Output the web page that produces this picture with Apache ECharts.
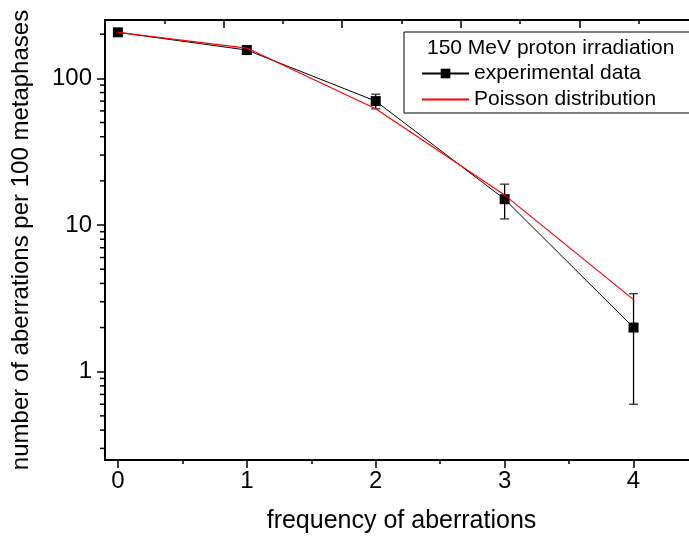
<!DOCTYPE html>
<html><head><meta charset="utf-8">
<script src="https://cdn.jsdelivr.net/npm/echarts@6/dist/echarts.min.js"></script>
<style>html,body{margin:0;padding:0;background:#fff}#c{width:689px;height:539px}</style>
</head><body><div id="c"></div>
<script>
// ---- data ----
const categories = [0, 1, 2, 3, 4];
const experimental = [206, 156, 70, 15, 2];
const experimentalErr = [null, null, 8, 4, 1.4];
const poisson = [206, 161, 62, 16, 3.1];
const xTicks = [0, 1, 2, 3, 4];
const xMinorTicks = [0.5, 1.5, 2.5, 3.5];
const yTicks = [1, 10, 100];
const yMinorTicks = [0.3, 0.4, 0.5, 0.6, 0.7, 0.8, 0.9,
  2, 3, 4, 5, 6, 7, 8, 9,
  20, 30, 40, 50, 60, 70, 80, 90, 200];
const legendTitle = '150 MeV proton irradiation';
const xTitle = 'frequency of aberrations';
const yTitle = 'number of aberrations per 100 metaphases';

const FONT = '"Liberation Sans", Arial, sans-serif';
const X_MIN = -0.1, X_MAX = 4.5;

const chart = echarts.init(document.getElementById('c'), null, {renderer: 'canvas'});

const expData = categories.map((x, i) => [x, experimental[i]]);
const poiData = categories.map((x, i) => [x, poisson[i]]);
const errData = categories
  .map((x, i) => experimentalErr[i] == null ? null : [x, experimental[i] - experimentalErr[i], experimental[i] + experimentalErr[i]])
  .filter(d => d);
const minorData = yMinorTicks.map(v => [X_MIN, v]);

const option = {
  animation: false,
  backgroundColor: '#fff',
  textStyle: {fontFamily: FONT},
  title: {
    text: legendTitle,
    left: 427, top: 38, padding: 0,
    textStyle: {fontFamily: FONT, fontSize: 21, fontWeight: 'normal', color: '#000'}
  },
  legend: {
    data: [
      {name: 'experimental data'},
      {name: 'Poisson distribution', itemStyle: {opacity: 0}}
    ],
    orient: 'vertical',
    left: 421, top: 63, padding: 0,
    itemWidth: 47, itemHeight: 12, itemGap: 5,
    textStyle: {fontFamily: FONT, fontSize: 21, color: '#000'},
    selectedMode: false
  },
  graphic: [{
    type: 'rect', z: 100,
    shape: {x: 404, y: 32, width: 300, height: 81},
    style: {fill: null, stroke: '#000', lineWidth: 1}
  }],
  grid: {left: 105, top: 20, width: 593, height: 440, outerBoundsMode: 'none', containLabel: false},
  xAxis: [{
    type: 'value', min: X_MIN, max: X_MAX, position: 'bottom',
    axisLine: {show: true, onZero: false, lineStyle: {color: '#000', width: 2}},
    axisTick: {show: true, inside: false, length: 8, customValues: xTicks, lineStyle: {color: '#000', width: 1.5}},
    axisLabel: {show: true, customValues: xTicks, fontSize: 24, color: '#000', margin: 9, fontFamily: FONT},
    splitLine: {show: false},
    name: xTitle, nameLocation: 'middle', nameGap: 49,
    nameTextStyle: {fontSize: 25, color: '#000', fontFamily: FONT}
  }, {
    type: 'value', min: X_MIN, max: X_MAX, position: 'bottom',
    axisLine: {show: false, onZero: false},
    axisTick: {show: true, inside: false, length: 4, customValues: xMinorTicks, lineStyle: {color: '#000', width: 1.5}},
    axisLabel: {show: false},
    splitLine: {show: false}
  }, {
    type: 'value', min: 0, max: 5, interval: 1, position: 'top',
    axisLine: {show: true, onZero: false, lineStyle: {color: '#000', width: 2}},
    axisTick: {show: true, inside: true, length: 8, lineStyle: {color: '#000', width: 1.5}},
    minorTick: {show: true, splitNumber: 2, length: 4, lineStyle: {color: '#000', width: 1.5}},
    axisLabel: {show: false},
    splitLine: {show: false}
  }],
  yAxis: [{
    type: 'log', logBase: 10, min: 0.25, max: 250, position: 'left',
    axisLine: {show: true, onZero: false, lineStyle: {color: '#000', width: 2}},
    axisTick: {show: true, inside: false, length: 8, customValues: yTicks, lineStyle: {color: '#000', width: 1.5}},
    axisLabel: {show: true, customValues: yTicks, fontSize: 24, color: '#000', margin: 13, fontFamily: FONT},
    splitLine: {show: false},
    name: yTitle, nameLocation: 'middle', nameGap: 72,
    nameTextStyle: {fontSize: 24, color: '#000', fontFamily: FONT}
  }],
  series: [{
    name: 'yMinorTicks', type: 'custom', silent: true, clip: false,
    xAxisIndex: 0, yAxisIndex: 0, data: minorData, z: 1,
    renderItem: function (params, api) {
      const p = api.coord([api.value(0), api.value(1)]);
      return {type: 'line', shape: {x1: p[0] - 5, y1: p[1], x2: p[0] - 1, y2: p[1]},
        style: {stroke: '#000', lineWidth: 1.5}};
    }
  }, {
    name: 'errors', type: 'custom', silent: true, clip: false,
    xAxisIndex: 0, yAxisIndex: 0, data: errData, z: 2,
    renderItem: function (params, api) {
      const lo = api.coord([api.value(0), api.value(1)]);
      const hi = api.coord([api.value(0), api.value(2)]);
      const hw = 4.5;
      return {type: 'group', children: [
        {type: 'line', shape: {x1: lo[0], y1: lo[1], x2: hi[0], y2: hi[1]}, style: {stroke: '#000', lineWidth: 1.3}},
        {type: 'line', shape: {x1: lo[0] - hw, y1: lo[1], x2: lo[0] + hw, y2: lo[1]}, style: {stroke: '#333', lineWidth: 1.3}},
        {type: 'line', shape: {x1: hi[0] - hw, y1: hi[1], x2: hi[0] + hw, y2: hi[1]}, style: {stroke: '#333', lineWidth: 1.3}}
      ]};
    }
  }, {
    name: 'experimental data', type: 'line', xAxisIndex: 0, yAxisIndex: 0,
    data: expData, symbol: 'rect', symbolSize: 10, showSymbol: true, z: 3,
    itemStyle: {color: '#000'}, lineStyle: {color: '#000', width: 1}
  }, {
    name: 'Poisson distribution', type: 'line', xAxisIndex: 0, yAxisIndex: 0,
    data: poiData, symbol: 'none', z: 4,
    itemStyle: {color: '#ff0000'}, lineStyle: {color: '#ff0000', width: 1.2}
  }]
};
chart.setOption(option);
</script>
</body></html>
